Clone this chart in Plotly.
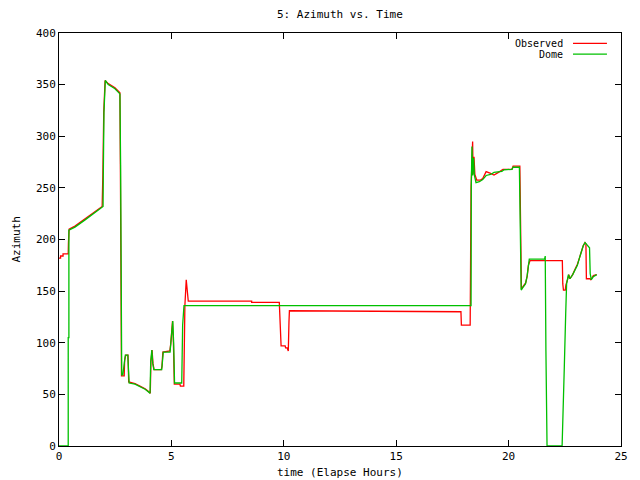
import plotly.graph_objects as go

# ---- data (time in elapsed hours, azimuth in degrees) ----
obs_t = [0, 0.07, 0.07, 0.18, 0.18, 0.41, 0.42, 0.45, 0.71, 1.16, 1.6, 1.92, 1.95, 1.99, 2.05,
         2.19, 2.49, 2.71, 2.73, 2.76, 2.78, 2.9, 2.92, 2.97, 3.07, 3.1, 3.38, 3.6, 3.83, 3.97,
         4.06, 4.09, 4.14, 4.18, 4.23, 4.55, 4.58, 4.62, 4.93, 4.97, 5.01, 5.05, 5.09, 5.13,
         5.38, 5.4, 5.55, 5.57, 5.6, 5.66, 5.69, 5.71, 5.75, 8.57, 8.57, 9.8, 9.82, 9.86, 9.88,
         10.06, 10.08, 10.15, 10.17, 10.2, 10.23, 10.25, 17.88, 17.9, 18.29, 18.3, 18.31, 18.33,
         18.4, 18.42, 18.46, 18.5, 18.58, 18.75, 18.85, 19.0, 19.2, 19.35, 19.55, 19.75, 20.15,
         20.2, 20.5, 20.51, 20.54, 20.57, 20.66, 20.76, 20.83, 20.88, 20.95, 22.39, 22.41, 22.44,
         22.52, 22.55, 22.62, 22.68, 22.73, 22.85, 22.95, 23.06, 23.15, 23.25, 23.32, 23.4,
         23.44, 23.46, 23.62, 23.66, 23.77, 23.92]
obs_az = [182, 182, 184, 184, 186, 186, 197, 210, 213, 220, 227, 232, 262, 323, 354,
          351, 347, 342, 273, 137, 68, 68, 83, 88, 88, 62, 60.5, 58, 55.5, 53,
          51, 82, 93, 80, 74, 74, 77, 91, 92, 99, 113, 121, 100, 60,
          60, 58, 58, 83, 136, 161, 154, 146, 140.4, 140.4, 139.1, 139.1, 128, 107, 97,
          97, 95, 95, 92, 92, 120, 131, 130, 117, 117, 162, 175, 250,
          295, 263, 280, 263, 257.6, 257.6, 259, 265.7, 264, 262.5, 265, 268, 268,
          271, 271, 241, 182, 152, 155, 158, 165, 175, 179.5, 179.5, 157, 151,
          151, 156, 161, 166, 162, 166, 171, 176, 182, 189, 194, 197,
          196, 162, 162, 161, 165, 166]

dome_t = [0, 0.41, 0.41, 0.44, 0.44, 0.71, 1.16, 1.6, 1.9, 1.96, 1.97, 2.0, 2.06, 2.19, 2.49,
          2.71, 2.74, 2.77, 2.79, 2.84, 2.86, 2.9, 2.95, 3.06, 3.08, 3.12, 3.38, 3.6, 3.83, 3.97,
          4.05, 4.08, 4.13, 4.17, 4.22, 4.57, 4.6, 4.64, 4.94, 4.98, 5.02, 5.06, 5.1, 5.14,
          5.46, 5.5, 5.56, 18.33, 18.34, 18.37, 18.4, 18.44, 18.48, 18.55, 18.7, 18.85, 19.0,
          19.2, 19.35, 19.7, 19.8, 20.15, 20.2, 20.48, 20.5, 20.53, 20.56, 20.65, 20.75, 20.82,
          20.87, 20.92, 21.6, 21.63, 21.66, 21.71, 22.38, 22.4, 22.43, 22.48, 22.54, 22.58,
          22.66, 22.73, 22.85, 22.95, 23.06, 23.15, 23.25, 23.32, 23.4, 23.5, 23.6, 23.63,
          23.68, 23.77, 23.92]
dome_az = [0, 0, 105, 105, 209, 212, 219, 226, 231, 232, 262, 323, 354, 350, 346,
           341, 273, 137, 69, 69, 72, 82, 88, 88, 75, 61, 60, 57.5, 55, 52.5,
           51, 82, 93, 80, 74, 74, 82, 91, 91, 99, 113, 121, 100, 61,
           61, 117, 136, 136, 251, 290, 262, 279, 262, 255, 256, 258, 262,
           263, 265, 266, 267.5, 268, 270, 270, 241, 182, 151, 154, 157, 164,
           174, 181, 181, 184, 92, 0, 0, 13, 39, 78, 128, 157,
           166, 162, 166, 171, 175, 182, 189, 194, 197, 194, 192, 167,
           161, 164, 166]

series_names = ["Observed", "Dome"]
series_colors = ["#ff0000", "#00c000"]

x_ticks = [0, 5, 10, 15, 20, 25]
y_ticks = [0, 50, 100, 150, 200, 250, 300, 350, 400]

FONT = "DejaVu Sans Mono"

fig = go.Figure()
fig.add_trace(go.Scatter(x=obs_t, y=obs_az, mode="lines", name=series_names[0],
                         line=dict(color=series_colors[0], width=1.3), showlegend=False))
fig.add_trace(go.Scatter(x=dome_t, y=dome_az, mode="lines", name=series_names[1],
                         line=dict(color=series_colors[1], width=1.3), showlegend=False))

axis_common = dict(showgrid=False, zeroline=False, showline=True, linecolor="black",
                   linewidth=1, mirror="allticks", ticks="inside", ticklen=6,
                   tickcolor="black", tickwidth=1,
                   tickfont=dict(family=FONT, size=11, color="black"))

fig.update_xaxes(range=[0, 25], tickvals=x_ticks, ticktext=[str(v) for v in x_ticks],
                 **axis_common)
fig.update_yaxes(range=[0, 400], tickvals=y_ticks, ticktext=[str(v) for v in y_ticks],
                 **axis_common)

# custom gnuplot-style key: text, then line sample to its right
key_y = [0.975, 0.949]
annotations = [
    dict(text="5: Azimuth vs. Time", xref="paper", yref="paper", x=0.5, y=1.044,
         showarrow=False, xanchor="center", yanchor="middle",
         font=dict(family=FONT, size=11, color="black")),
    dict(text="time (Elapse Hours)", xref="paper", yref="paper", x=0.5, y=-0.063,
         showarrow=False, xanchor="center", yanchor="middle",
         font=dict(family=FONT, size=11, color="black")),
    dict(text="Azimuth", xref="paper", yref="paper", x=-0.0765, y=0.5, textangle=-90,
         showarrow=False, xanchor="center", yanchor="middle",
         font=dict(family=FONT, size=11, color="black")),
]
shapes = []
for name, color, ky in zip(series_names, series_colors, key_y):
    annotations.append(dict(text=name, xref="paper", yref="paper", x=0.9004, y=ky,
                            showarrow=False, xanchor="right", yanchor="middle",
                            font=dict(family=FONT, size=10, color="black")))
    shapes.append(dict(type="line", xref="paper", yref="paper", x0=0.9146, x1=0.975,
                       y0=ky, y1=ky, line=dict(color=color, width=1.3)))

# the page body adds an 8px offset, so the figure is sized to fit inside it
fig.update_layout(
    width=632, height=472,
    margin=dict(l=51, r=19, t=25, b=34, autoexpand=False),
    paper_bgcolor="white", plot_bgcolor="white",
    annotations=annotations, shapes=shapes,
    font=dict(family=FONT, size=11, color="black"),
)

fig.write_html("out.html")
